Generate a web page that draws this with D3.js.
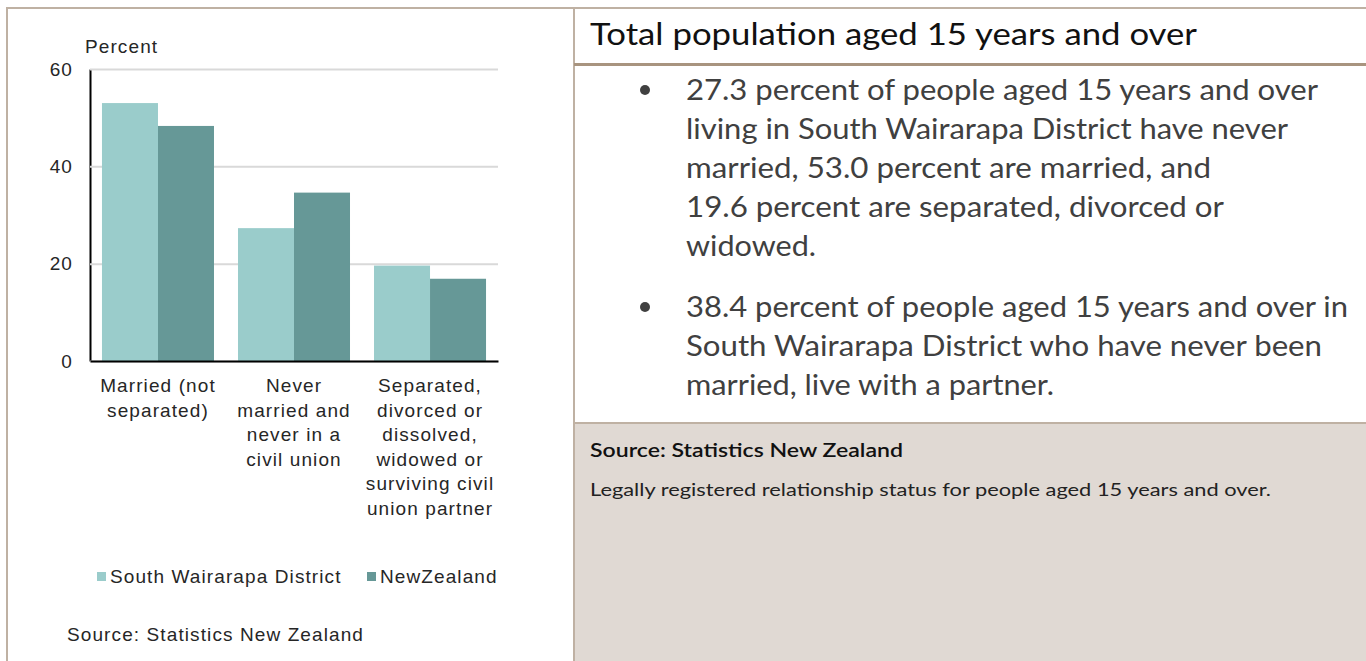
<!DOCTYPE html>
<html>
<head>
<meta charset="utf-8">
<style>
  html, body { margin: 0; padding: 0; background: #fff; }
  svg { display: block; }
  .chart-text { font-family: "Liberation Sans", Arial, sans-serif; font-size: 19px; fill: #262626; letter-spacing: 1.1px; }
  .panel-text { font-family: Lato, "Open Sans", sans-serif; }
  .yAxis .tick line { stroke: #d9d9d9; stroke-width: 2px; }
  .yAxis .domain { stroke: #000; stroke-width: 2px; }
</style>
</head>
<body>
<div id="chart"></div>
<script src="https://d3js.org/d3.v7.min.js"></script>
<script>
  // data
  const categories = ['Married (not separated)', 'Never married and never in a civil union', 'Separated, divorced or dissolved, widowed or surviving civil union partner']
  const categoryLines = [
    ['Married (not', 'separated)'],
    ['Never', 'married and', 'never in a', 'civil union'],
    ['Separated,', 'divorced or', 'dissolved,', 'widowed or', 'surviving civil', 'union partner']
  ]
  const seriesNames = ['South Wairarapa District', 'NewZealand']
  const southWairarapa = [53.0, 27.3, 19.6]
  const newZealand = [48.3, 34.6, 16.9]
  const yTicks = [0, 20, 40, 60]

  const titleText = 'Total population aged 15 years and over'
  const bullets = [
    ['27.3 percent of people aged 15 years and over', 'living in South Wairarapa District have never', 'married, 53.0 percent are married, and', '19.6 percent are separated, divorced or', 'widowed.'],
    ['38.4 percent of people aged 15 years and over in', 'South Wairarapa District who have never been', 'married, live with a partner.']
  ]
  // widths of each line in the picture, so the text fills the same space
  const bulletWidths = [[632, 602, 525, 538, 130], [662, 636, 368]]
  const sourceTitle = 'Source: Statistics New Zealand'
  const sourceNote = 'Legally registered relationship status for people aged 15 years and over.'

  const colors = ['#9acccb', '#669897']
  const border = '#bfb1a3'

  const svg = d3.select('#chart').append('svg')
    .attr('width', 1366)
    .attr('height', 661)

  // ---------- frame ----------
  svg.append('rect').attr('x', 574).attr('y', 423).attr('width', 792).attr('height', 238).attr('fill', '#e0d9d3')
  svg.append('line').attr('x1', 6).attr('x2', 1366).attr('y1', 8).attr('y2', 8).attr('stroke', border).attr('stroke-width', 2)
  svg.append('line').attr('x1', 7).attr('x2', 7).attr('y1', 8).attr('y2', 661).attr('stroke', border).attr('stroke-width', 2)
  svg.append('line').attr('x1', 574).attr('x2', 574).attr('y1', 8).attr('y2', 661).attr('stroke', border).attr('stroke-width', 2)
  svg.append('line').attr('x1', 574).attr('x2', 1366).attr('y1', 64.5).attr('y2', 64.5).attr('stroke', '#a8947f').attr('stroke-width', 3)
  svg.append('line').attr('x1', 574).attr('x2', 1366).attr('y1', 423).attr('y2', 423).attr('stroke', border).attr('stroke-width', 2)

  // ---------- chart ----------
  const plotLeft = 90, plotRight = 498, plotTop = 69, plotBottom = 361

  const x0 = d3.scaleBand()
    .domain(categories)
    .range([plotLeft, plotRight])
    .paddingInner(0.1765)
    .paddingOuter(0.088)

  const x1 = d3.scaleBand()
    .domain(seriesNames)
    .range([0, x0.bandwidth()])

  const y = d3.scaleLinear()
    .domain([0, 60])
    .range([plotBottom, plotTop])

  const yAxis = d3.axisLeft(y)
    .tickValues(yTicks)
    .tickSizeInner(-(plotRight - plotLeft))
    .tickSizeOuter(0)
    .tickPadding(17)

  svg.append('g')
    .attr('class', 'yAxis')
    .attr('transform', `translate(${plotLeft}, 0)`)
    .call(yAxis)
    .call(g => g.selectAll('.tick text')
      .attr('class', 'chart-text')
      .style('font-size', '19px')
      .attr('fill', '#262626'))

  const rows = categories.map((c, i) => ({ cat: c, values: [southWairarapa[i], newZealand[i]] }))

  svg.append('g')
    .selectAll('g')
    .data(rows)
    .join('g')
    .attr('transform', d => `translate(${x0(d.cat)}, 0)`)
    .selectAll('rect')
    .data(d => d.values.map((v, j) => ({ name: seriesNames[j], v: v, j: j })))
    .join('rect')
    .attr('x', d => x1(d.name))
    .attr('y', d => y(d.v))
    .attr('width', x1.bandwidth())
    .attr('height', d => y(0) - y(d.v))
    .attr('fill', d => colors[d.j])

  // x axis baseline
  const xAxis = d3.axisBottom(x0).tickSize(0).tickFormat('')
  svg.append('g')
    .attr('transform', `translate(0, ${plotBottom})`)
    .call(xAxis)
    .call(g => g.select('.domain').attr('stroke', '#000').attr('stroke-width', 2))

  // category labels
  const catLabels = svg.append('g')
    .selectAll('text')
    .data(categories)
    .join('text')
    .attr('class', 'chart-text')
    .attr('text-anchor', 'middle')
    .attr('x', d => x0(d) + x0.bandwidth() / 2)
    .attr('y', 392)
  catLabels.selectAll('tspan')
    .data((d, i) => categoryLines[i])
    .join('tspan')
    .attr('x', function () { return d3.select(this.parentNode).attr('x') })
    .attr('dy', (d, i) => i === 0 ? 0 : 24.6)
    .text(d => d)

  svg.append('text').attr('class', 'chart-text')
    .attr('x', 85).attr('y', 53).text('Percent')

  // legend
  const legendX = [97, 367]
  const legend = svg.append('g')
    .selectAll('g')
    .data(seriesNames)
    .join('g')
    .attr('transform', (d, i) => `translate(${legendX[i]}, 572)`)
  legend.append('rect').attr('width', 9).attr('height', 9).attr('fill', (d, i) => colors[i])
  legend.append('text').attr('class', 'chart-text')
    .attr('x', 13).attr('y', 11).text(d => d)

  svg.append('text').attr('class', 'chart-text')
    .attr('x', 67).attr('y', 641).text(sourceTitle)

  // ---------- text panel ----------
  svg.append('text').attr('class', 'panel-text')
    .attr('x', 590).attr('y', 45)
    .attr('font-size', 30).attr('fill', '#111')
    .attr('textLength', 607).attr('lengthAdjust', 'spacingAndGlyphs')
    .text(titleText)

  const bulletTops = [100, 317]
  bullets.forEach((lines, b) => {
    svg.append('circle').attr('cx', 645).attr('cy', bulletTops[b] - 10).attr('r', 5).attr('fill', '#404040')
    svg.append('g')
      .selectAll('text')
      .data(lines)
      .join('text')
      .attr('class', 'panel-text')
      .attr('x', 686)
      .attr('y', (d, i) => bulletTops[b] + i * 39)
      .attr('font-size', 28)
      .attr('fill', '#404040')
      .attr('textLength', (d, i) => bulletWidths[b][i])
      .attr('lengthAdjust', 'spacingAndGlyphs')
      .text(d => d)
  })

  svg.append('text').attr('class', 'panel-text')
    .attr('x', 590).attr('y', 457)
    .attr('font-size', 20).attr('font-weight', 600).attr('fill', '#111')
    .attr('textLength', 313).attr('lengthAdjust', 'spacingAndGlyphs')
    .text(sourceTitle)

  svg.append('text').attr('class', 'panel-text')
    .attr('x', 590).attr('y', 496)
    .attr('font-size', 18).attr('fill', '#222')
    .attr('textLength', 681).attr('lengthAdjust', 'spacingAndGlyphs')
    .text(sourceNote)
</script>
</body>
</html>
